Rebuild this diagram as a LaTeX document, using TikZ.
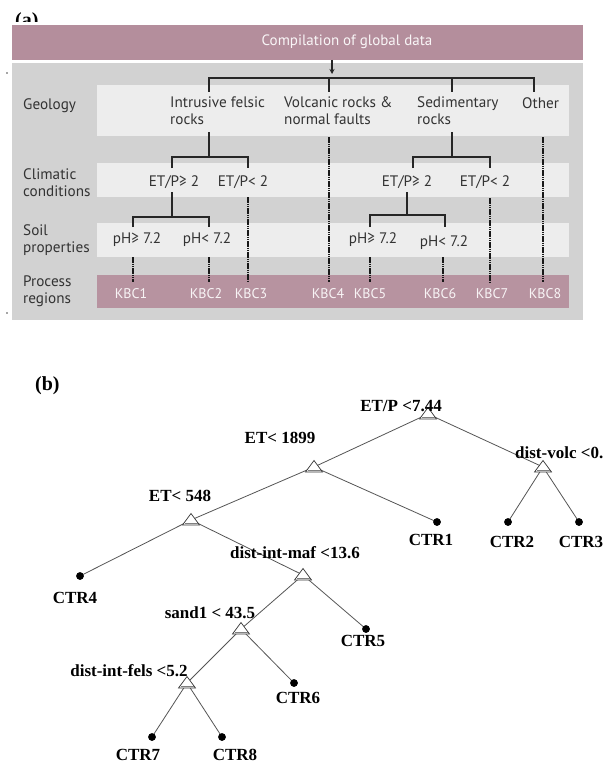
\documentclass[tikz,border=0pt]{standalone}
\usepackage{fontspec}
\setmainfont{Liberation Serif}
\newfontfamily\ptsans{PT Sans}
\usetikzlibrary{arrows.meta}
\definecolor{pinkc}{HTML}{B48E9C}
\definecolor{panelc}{HTML}{D2D2D2}
\definecolor{bandc}{HTML}{EDEDED}
\definecolor{txtc}{HTML}{333333}
\definecolor{edgec}{HTML}{555555}
\tikzset{
  lab/.style={font=\ptsans\fontsize{15.2}{17}\selectfont, text=txtc, inner sep=0},
  rowlab/.style={lab, align=left, anchor=west},
  kbc/.style={font=\ptsans\fontsize{14}{16}\selectfont, text=white!90!pinkc, inner sep=0},
  bracketline/.style={line width=1.5pt, draw=black!85},
  dashline/.style={line width=1.8pt, draw=black!90, dash pattern=on 1.5pt off 0.7pt},
  splitlab/.style={font=\bfseries\fontsize{17}{19}\selectfont, inner sep=0},
  panlab/.style={font=\bfseries\fontsize{20}{22}\selectfont, inner sep=0, anchor=base west},
  leaf/.style={circle, fill=black, inner sep=0, minimum size=7.5pt},
  edge/.style={draw=edgec, line width=0.8pt},
  tri/.pic={\draw[black!80, line width=0.7pt, fill=white] (-8.5,5) -- (0,-6.5) -- (8.5,5) -- cycle;
            \draw[gray, line width=0.9pt] (-6.5,3.5) -- (6.5,3.5);}
}
\begin{document}
\begin{tikzpicture}[x=1pt,y=-1pt]
\useasboundingbox (0,0) rectangle (605,765);
\fill[white] (0,0) rectangle (605,765);

% ---------------- (a) ----------------
\begin{scope}
  \clip (0,0) rectangle (605,22);
  \node[panlab] (pa) at (15,27) {(a)};
\end{scope}
\fill[pinkc] (12,25) rectangle (583,60);
\node[font=\ptsans\fontsize{15}{17}\selectfont, text=white!92!pinkc, inner sep=0] (comp) at (347,42) {Compilation of global data};
\fill[panelc] (12,63) rectangle (583,320);
\fill[bandc] (97,85) rectangle (569,136);
\fill[bandc] (97,163) rectangle (569,197);
\fill[bandc] (97,223) rectangle (569,257);
\fill[pinkc!96!white] (97,275) rectangle (569,308);
\fill[black!70] (7,73) circle (0.8);
\fill[black!70] (7,313) circle (0.8);

\node[rowlab] (rg) at (23,106) {Geology};
\node[rowlab] (rc) at (23,183) {Climatic\\conditions};
\node[rowlab] (rs) at (23,240) {Soil\\properties};
\node[rowlab] (rp) at (23,291) {Process\\regions};

\node[lab, align=left, anchor=west] (intr) at (170,111) {Intrusive felsic\\rocks};
\node[lab, align=left, anchor=west] (volc) at (284,111) {Volcanic rocks \&\\normal faults};
\node[lab, align=left, anchor=west] (sed) at (417,111) {Sedimentary\\rocks};
\node[lab, anchor=west] (oth) at (522,103) {Other};

\node[lab] (c1) at (174,182) {ET/P≥ 2};
\node[lab] (c2) at (243,182) {ET/P< 2};
\node[lab] (c3) at (407,182) {ET/P≥ 2};
\node[lab] (c4) at (485,182) {ET/P< 2};

\node[lab] (s1) at (137,240) {pH≥ 7.2};
\node[lab] (s2) at (207,240) {pH< 7.2};
\node[lab] (s3) at (373,240) {pH≥ 7.2};
\node[lab] (s4) at (444,243) {pH< 7.2};

\node[kbc] (k1) at (131,294) {KBC1};
\node[kbc] (k2) at (206,294) {KBC2};
\node[kbc] (k3) at (251,294) {KBC3};
\node[kbc] (k4) at (328,294) {KBC4};
\node[kbc] (k5) at (370,294) {KBC5};
\node[kbc] (k6) at (440,294) {KBC6};
\node[kbc] (k7) at (492,294) {KBC7};
\node[kbc] (k8) at (545,294) {KBC8};

% arrow and top bracket
\coordinate (arrS) at (332,60);
\coordinate (arrE) at (332,74);
\draw[bracketline, -{Stealth[length=5pt,width=5pt]}] (arrS) -- (arrE);
\coordinate (bA) at (209,78);
\coordinate (bB) at (329,78);
\coordinate (bC) at (452,78);
\coordinate (bD) at (534,78);
\draw[bracketline] (bA) ++(0,14) -- (bA) -- (bD) -- ++(0,14);
\draw[bracketline] (bB) -- ++(0,14);
\draw[bracketline] (bC) -- ++(0,14);

% intrusive branch
\coordinate (iv) at (209,132);
\draw[bracketline] (iv) -- ++(0,25);
\coordinate (cl1) at (172,157);
\coordinate (cl2) at (248,157);
\draw[bracketline] (cl1) ++(0,11) -- (cl1) -- (cl2) -- ++(0,11);
\coordinate (ev1) at (172,192);
\draw[bracketline] (ev1) -- ++(0,25);
\coordinate (sl1) at (133,217);
\coordinate (sl2) at (209,217);
\draw[bracketline] (sl1) ++(0,10) -- (sl1) -- (sl2) -- ++(0,10);

% sedimentary branch
\coordinate (sv) at (452,132);
\draw[bracketline] (sv) -- ++(0,25);
\coordinate (cr1) at (413,157);
\coordinate (cr2) at (490,157);
\draw[bracketline] (cr1) ++(0,11) -- (cr1) -- (cr2) -- ++(0,11);
\coordinate (ev2) at (407,192);
\draw[bracketline] (ev2) -- ++(0,23);
\coordinate (sr1) at (370,215);
\coordinate (sr2) at (445,215);
\draw[bracketline] (sr1) ++(0,12) -- (sr1) -- (sr2) -- ++(0,12);

% dashed connectors to process regions
\coordinate (d1) at (133,257);
\coordinate (d2) at (209,257);
\coordinate (d3) at (248,197);
\coordinate (d4) at (329,137);
\coordinate (d5) at (370,257);
\coordinate (d6) at (443,257);
\coordinate (d7) at (490,198);
\coordinate (d8) at (543,137);
\foreach \d in {d1,d2,d3,d4,d5,d6,d7,d8}{
  \draw[dashline] (\d) -- (\d |- 0,282);
}

% ---------------- (b) ----------------
\node[panlab] (pb) at (35,390) {(b)};

\coordinate (r)  at (428,414);
\coordinate (n1) at (314,467);
\coordinate (n2) at (543,467);
\coordinate (n3) at (191,520);
\coordinate (n4) at (303,575);
\coordinate (n5) at (241,629);
\coordinate (n6) at (187,683);

\node[leaf] (l1) at (437,522) {};
\node[leaf] (l2) at (508,522) {};
\node[leaf] (l3) at (579,522) {};
\node[leaf] (l4) at (80,576) {};
\node[leaf] (l5) at (366,629) {};
\node[leaf] (l6) at (294,683) {};
\node[leaf] (l7) at (152,737) {};
\node[leaf] (l8) at (222,737) {};

\draw[edge] (r) -- (n1);
\draw[edge] (r) -- (n2);
\draw[edge] (n1) -- (n3);
\draw[edge] (n1) -- (l1.center);
\draw[edge] (n2) -- (l2.center);
\draw[edge] (n2) -- (l3.center);
\draw[edge] (n3) -- (l4.center);
\draw[edge] (n3) -- (n4);
\draw[edge] (n4) -- (n5);
\draw[edge] (n4) -- (l5.center);
\draw[edge] (n5) -- (n6);
\draw[edge] (n5) -- (l6.center);
\draw[edge] (n6) -- (l7.center);
\draw[edge] (n6) -- (l8.center);

\foreach \n in {r,n1,n2,n3,n4,n5,n6}{ \pic at (\n) {tri}; }
\foreach \l in {l1,l2,l3,l4,l5,l6,l7,l8}{ \node[leaf] at (\l) {}; }

\node[splitlab] (tr)  at (401,406) {ET/P <7.44};
\node[splitlab] (t1)  at (280,438) {ET< 1899};
\node[splitlab, anchor=west] (t2) at (515,453) {dist-volc <0.};
\node[splitlab] (t3)  at (180,496) {ET< 548};
\node[splitlab] (t4)  at (295,553) {dist-int-maf <13.6};
\node[splitlab] (t5)  at (210,613) {sand1 < 43.5};
\node[splitlab] (t6)  at (129,671) {dist-int-fels <5.2};

\node[splitlab] (c1l) at (431,540) {CTR1};
\node[splitlab] (c2l) at (512,542) {CTR2};
\node[splitlab] (c3l) at (581,542) {CTR3};
\node[splitlab] (c4l) at (75,598) {CTR4};
\node[splitlab] (c5l) at (363,641) {CTR5};
\node[splitlab] (c6l) at (298,698) {CTR6};
\node[splitlab] (c7l) at (138,755) {CTR7};
\node[splitlab] (c8l) at (235,755) {CTR8};
\end{tikzpicture}
\end{document}
